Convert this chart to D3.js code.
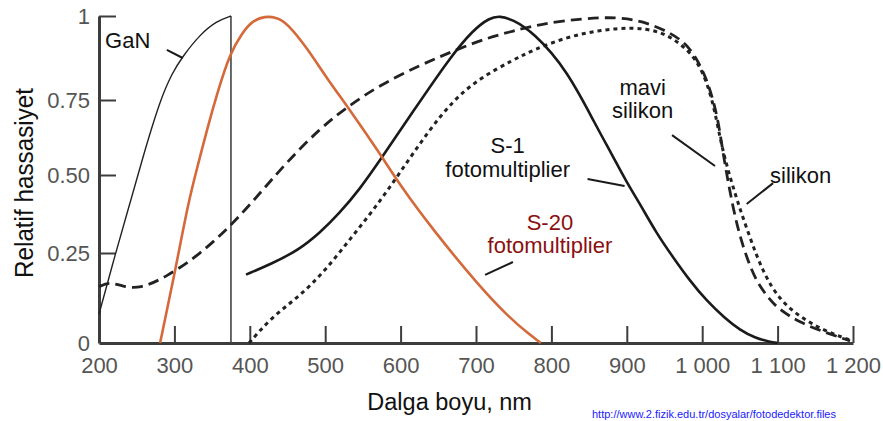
<!DOCTYPE html>
<html>
<head>
<meta charset="utf-8">
<script src="https://cdn.jsdelivr.net/npm/d3@7"></script>
<style>
  html, body { margin: 0; padding: 0; background: #fff; }
  svg { display: block; font-family: "Liberation Sans", Arial, Helvetica, sans-serif; }
</style>
</head>
<body>
<svg id="chart" width="883" height="421"></svg>
<script>
// ---------- DATA (wavelength nm, relative sensitivity) ----------
const xTickValues = [200, 300, 400, 500, 600, 700, 800, 900, 1000, 1100, 1200];
const yTickValues = [0, 0.25, 0.5, 0.75, 1];
const yTickLabels = ["0", "0.25", "0.50", "0.75", "1"];

const ganCutoff = 375;
const ganCurve = [[200,0.08],[222,0.25],[240,0.40],[257,0.55],[281,0.75],[297,0.83],[311,0.88],[334,0.945],[356,0.985],[375,1.0]];

const s20Curve = [[281,0],[302,0.21],[319,0.42],[333,0.55],[342,0.64],[358,0.78],[374,0.89],[390,0.95],[403,0.985],[420,1.0],[436,0.995],[449,0.98],[476,0.905],[502,0.815],[530,0.727],[573,0.57],[599,0.468],[643,0.324],[705,0.156],[745,0.069],[770,0.025],[786,0]];

const s1Curve = [[395,0.19],[429,0.22],[465,0.26],[493,0.315],[518,0.375],[546,0.455],[573,0.55],[616,0.71],[666,0.878],[696,0.958],[718,0.995],[732,1.0],[748,0.99],[776,0.952],[821,0.839],[860,0.66],[880,0.57],[899,0.48],[918,0.405],[939,0.315],[961,0.239],[984,0.172],[1006,0.117],[1030,0.069],[1050,0.036],[1070,0.014],[1090,0.003],[1100,0]];

const blueSiliconCurve = [[200,0.156],[213,0.17],[230,0.158],[254,0.15],[289,0.183],[333,0.245],[376,0.34],[413,0.44],[448,0.54],[493,0.655],[529,0.727],[573,0.795],[626,0.854],[670,0.896],[715,0.935],[749,0.955],[785,0.976],[842,0.993],[887,0.997],[921,0.985],[957,0.952],[984,0.91],[1006,0.818],[1020,0.70],[1026,0.60],[1033,0.494],[1046,0.333],[1061,0.225],[1073,0.167],[1090,0.119],[1103,0.092],[1130,0.056],[1165,0.028],[1196,0.006]];

const siliconCurve = [[399,0],[429,0.072],[465,0.128],[501,0.203],[535,0.301],[567,0.397],[599,0.507],[635,0.64],[670,0.75],[705,0.815],[749,0.869],[776,0.899],[821,0.938],[864,0.958],[908,0.967],[944,0.955],[971,0.92],[997,0.86],[1014,0.75],[1024,0.617],[1033,0.527],[1046,0.42],[1063,0.301],[1081,0.194],[1103,0.119],[1130,0.072],[1160,0.036],[1196,0.008]];

// Annotation labels: [text lines], anchor (wavelength, value), pointer from/to
const annotations = [
  { lines: ["GaN"], at: [208, 0.905], anchor: "start", color: "#111", from: [290, 0.899], to: [311, 0.875] },
  { lines: ["S-1", "fotomultiplier"], at: [742, 0.573], anchor: "middle", color: "#111", from: [848, 0.487], to: [897, 0.465] },
  { lines: ["S-20", "fotomultiplier"], at: [798, 0.324], anchor: "middle", color: "#8b1010", from: [712, 0.189], to: [749, 0.225] },
  { lines: ["mavi", "silikon"], at: [921, 0.765], anchor: "middle", color: "#111", from: [960, 0.633], to: [1017, 0.53] },
  { lines: ["silikon"], at: [1090, 0.474], anchor: "start", color: "#111", from: [1059, 0.407], to: [1094, 0.474] }
];

// ---------- CHART ----------
const svg = d3.select("#chart");

const x = d3.scaleLinear().domain([200, 1200]).range([99, 853]);
// the printed value axis is slightly uneven; follow its tick spacing
const y = d3.scaleLinear().domain(yTickValues).range([343, 253, 175, 100, 16]);

const locale = d3.formatLocale({ decimal: ".", thousands: " ", grouping: [3], currency: ["", ""] });
const fmtX = locale.format(",d");

const axisColor = "#3d3d3d";

// X axis
const gx = svg.append("g")
  .attr("transform", `translate(0,${y(0)})`)
  .call(d3.axisBottom(x).tickValues(xTickValues).tickFormat(fmtX)
    .tickSizeInner(-17).tickSizeOuter(0).tickPadding(14));
gx.select(".domain").attr("stroke", axisColor).attr("stroke-width", 3);
gx.selectAll(".tick line").attr("stroke", axisColor).attr("stroke-width", 2)
  .filter(d => d === 200).remove();
gx.selectAll(".tick text").attr("fill", "#555").style("font-size", "22px")
  .attr("font-family", "Liberation Sans, Arial, sans-serif");

// Y axis
const gy = svg.append("g")
  .attr("transform", `translate(${x(200)},0)`)
  .call(d3.axisLeft(y).tickValues(yTickValues).tickFormat((d, i) => yTickLabels[i])
    .tickSizeInner(-17).tickSizeOuter(0).tickPadding(9));
gy.select(".domain").attr("stroke", axisColor).attr("stroke-width", 3);
gy.selectAll(".tick line").attr("stroke", axisColor).attr("stroke-width", 2)
  .filter(d => d === 0).remove();
gy.selectAll(".tick text").attr("fill", "#555").style("font-size", "22px")
  .attr("font-family", "Liberation Sans, Arial, sans-serif");

// Axis titles
svg.append("text")
  .attr("x", x(665)).attr("y", 410)
  .attr("text-anchor", "middle")
  .style("font-size", "23.5px").attr("fill", "#111")
  .text("Dalga boyu, nm");

svg.append("text")
  .attr("transform", `translate(33,${y(0.5) + 8}) rotate(-90)`)
  .attr("text-anchor", "middle")
  .attr("textLength", 190).attr("lengthAdjust", "spacingAndGlyphs")
  .style("font-size", "26px").attr("fill", "#111")
  .text("Relatif hassasiyet");

// Lines (smoothed B-spline through the read-off points)
const line = d3.line().x(d => x(d[0])).y(d => y(d[1])).curve(d3.curveBasis);

// GaN cutoff vertical
svg.append("line")
  .attr("x1", x(ganCutoff)).attr("x2", x(ganCutoff))
  .attr("y1", y(1)).attr("y2", y(0))
  .attr("stroke", "#444").attr("stroke-width", 1.6);

svg.append("path").datum(ganCurve).attr("d", line)
  .attr("fill", "none").attr("stroke", "#222").attr("stroke-width", 1.4);

svg.append("path").datum(blueSiliconCurve).attr("d", line)
  .attr("fill", "none").attr("stroke", "#222").attr("stroke-width", 2.8)
  .attr("stroke-dasharray", "11,6");

svg.append("path").datum(siliconCurve).attr("d", line)
  .attr("fill", "none").attr("stroke", "#222").attr("stroke-width", 3)
  .attr("stroke-dasharray", "4,4");

svg.append("path").datum(s1Curve).attr("d", line)
  .attr("fill", "none").attr("stroke", "#1a1a1a").attr("stroke-width", 2.6);

svg.append("path").datum(s20Curve).attr("d", line)
  .attr("fill", "none").attr("stroke", "#d4693a").attr("stroke-width", 2.6);

// Annotations
const ann = svg.append("g");
annotations.forEach(a => {
  ann.append("line")
    .attr("x1", x(a.from[0])).attr("y1", y(a.from[1]))
    .attr("x2", x(a.to[0])).attr("y2", y(a.to[1]))
    .attr("stroke", "#1a1a1a").attr("stroke-width", 2);
  const t = ann.append("text")
    .attr("text-anchor", a.anchor)
    .style("font-size", "22px").attr("fill", a.color);
  a.lines.forEach((ln, i) => {
    t.append("tspan").attr("x", x(a.at[0])).attr("y", y(a.at[1]))
      .attr("dy", i * 23.5).text(ln);
  });
});

// Source URL (sits at the bottom edge)
svg.append("text")
  .attr("x", 592).attr("y", 418)
  .style("font-size", "11px").attr("fill", "#1a1aff")
  .text("http://www.2.fizik.edu.tr/dosyalar/fotodedektor.files");
</script>
</body>
</html>
